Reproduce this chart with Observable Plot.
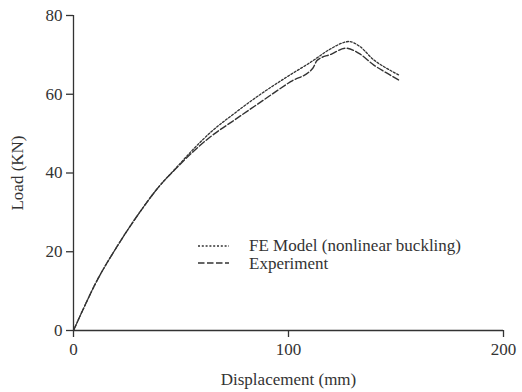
<!DOCTYPE html>
<html>
<head>
<meta charset="utf-8">
<script src="https://cdn.jsdelivr.net/npm/d3@7"></script>
<script src="https://cdn.jsdelivr.net/npm/@observablehq/plot@0.6"></script>
<style>
  html, body { margin: 0; padding: 0; background: #fff; }
  #wrap { position: relative; width: 522px; height: 392px; }
  #legend { position: absolute; left: 197px; top: 237px; font-family: "Liberation Serif", "DejaVu Serif", serif; font-size: 17px; color: #333; line-height: 17px; }
  #legend .row { display: flex; align-items: center; height: 17.5px; }
  #legend svg { margin-right: 20px; }
</style>
</head>
<body>
<div id="wrap"><div id="chart"></div><div id="legend"></div></div>
<script>
const seriesNames = ["FE Model (nonlinear buckling)", "Experiment"];
const dashes = ["2,1.8", "6.5,2.5"];

const feX = [0, 5, 10, 20, 30, 40, 47.4, 56, 63.7, 75, 87, 101, 110.2, 119.5, 125, 128, 133, 139.7, 145, 151.3];
const feY = [0, 6.0, 11.7, 21.1, 29.4, 36.7, 41.1, 46.2, 50.3, 55.2, 60.0, 65.0, 68.1, 71.5, 73.0, 73.4, 72.2, 68.7, 66.8, 64.9];

const expX = [0, 5, 10, 20, 30, 40, 47.4, 56, 63.7, 75, 87, 101, 111.3, 113.3, 120, 126.5, 133, 139.7, 145, 151.3];
const expY = [0, 6.0, 11.7, 21.1, 29.4, 36.7, 41.0, 45.6, 49.2, 53.5, 58.0, 63.2, 66.6, 68.6, 70.2, 71.7, 70.3, 67.4, 65.6, 63.6];

const xTicks = [0, 100, 200];
const yTicks = [0, 20, 40, 60, 80];

const fe = feX.map((x, i) => ({x, y: feY[i]}));
const ex = expX.map((x, i) => ({x, y: expY[i]}));

const ink = "#333";
const chart = Plot.plot({
  width: 522,
  height: 392,
  marginLeft: 73,
  marginRight: 19,
  marginTop: 15,
  marginBottom: 62,
  style: {fontFamily: "'Liberation Serif', 'DejaVu Serif', serif", fontSize: "17px", color: ink, background: "#fff"},
  x: {domain: [0, 200]},
  y: {domain: [0, 80]},
  marks: [
    Plot.ruleX([0], {stroke: ink, strokeWidth: 1.3}),
    Plot.ruleY([0], {stroke: ink, strokeWidth: 1.3}),
    Plot.axisX({ticks: xTicks, tickSize: 7, tickPadding: 5, stroke: ink, strokeWidth: 1.3, fill: ink, fontSize: 17,
      label: "Displacement (mm)", labelAnchor: "center", labelArrow: "none", labelOffset: 54}),
    Plot.axisY({ticks: yTicks, tickSize: 7, tickPadding: 4, stroke: ink, strokeWidth: 1.3, fill: ink, fontSize: 17,
      label: "Load (KN)", labelAnchor: "center", labelArrow: "none", labelOffset: 63}),
    Plot.line(fe, {x: "x", y: "y", stroke: ink, strokeWidth: 1.3, strokeDasharray: dashes[0], curve: "monotone-x"}),
    Plot.line(ex, {x: "x", y: "y", stroke: ink, strokeWidth: 1.4, strokeDasharray: dashes[1], curve: "monotone-x"})
  ]
});
document.getElementById("chart").append(chart);

const legend = document.getElementById("legend");
seriesNames.forEach((name, i) => {
  const row = document.createElement("div");
  row.className = "row";
  row.innerHTML = `<svg width="32" height="6"><line x1="1" y1="3" x2="32" y2="3" stroke="${ink}" stroke-width="${i ? 1.4 : 1.3}" stroke-dasharray="${dashes[i]}"/></svg><span>${name}</span>`;
  legend.append(row);
});
</script>
</body>
</html>
